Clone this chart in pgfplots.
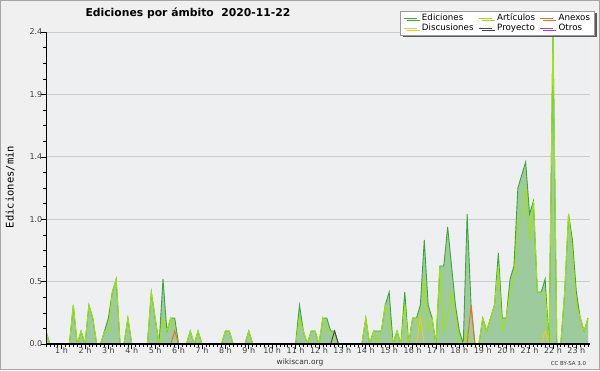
\documentclass[border=0pt]{standalone}
\usepackage{pgfplots}
\pgfplotsset{compat=1.18}
\usepackage{pgfplotstable}
\usepackage{fontspec}
\setmainfont{DejaVu Sans}
\newfontfamily\monofont{DejaVu Sans Mono}
\usetikzlibrary{shadows}
\definecolor{plotbg}{RGB}{238,239,241}
\definecolor{outerbg}{RGB}{240,240,240}
\definecolor{edline}{RGB}{60,165,60}
\definecolor{edfill}{RGB}{157,203,157}
\definecolor{artline}{RGB}{160,230,0}
\definecolor{anexline}{RGB}{240,110,40}
\definecolor{discline}{RGB}{245,200,40}
\definecolor{proyline}{RGB}{70,70,70}
\definecolor{otrosline}{RGB}{150,70,230}
\definecolor{gridc}{RGB}{204,204,204}

\pgfplotstableread{
i ed art disc anex proy otros
0 0.1 0.1 0 0 0 0
1 0 0 0 0 0 0
2 0 0 0 0 0 0
3 0 0 0 0 0 0
4 0 0 0 0 0 0
5 0 0 0 0 0 0
6 0 0 0 0 0 0
7 0.3 0.3 0 0 0 0
8 0 0 0 0 0 0
9 0.1 0.1 0 0 0 0
10 0 0 0 0 0 0
11 0.3 0.3 0 0 0 0
12 0.2 0.2 0 0 0 0
13 0 0 0 0 0 0
14 0 0 0 0 0 0
15 0.1 0.1 0 0 0 0
16 0.2 0.1 0 0 0 0
17 0.4 0.4 0 0 0 0
18 0.5 0.5 0 0 0 0
19 0 0 0 0 0 0
20 0 0 0 0 0 0
21 0.2 0.2 0 0 0 0
22 0 0 0 0 0 0
23 0 0 0 0 0 0
24 0 0 0 0 0 0
25 0 0 0 0 0 0
26 0 0 0 0 0 0
27 0.4 0.4 0 0 0 0
28 0.2 0.2 0 0 0 0
29 0 0 0 0 0 0
30 0.5 0.2 0 0 0 0
31 0.1 0.1 0 0 0 0
32 0.2 0.2 0 0 0 0
33 0.2 0.1 0 0.1 0 0
34 0 0 0 0 0 0
35 0 0 0 0 0 0
36 0 0 0 0 0 0
37 0.1 0.1 0 0 0 0
38 0 0 0 0 0 0
39 0.1 0.1 0 0 0 0
40 0 0 0 0 0 0
41 0 0 0 0 0 0
42 0 0 0 0 0 0
43 0 0 0 0 0 0
44 0 0 0 0 0 0
45 0 0 0 0 0 0
46 0.1 0.1 0 0 0 0
47 0.1 0.1 0 0 0 0
48 0 0 0 0 0 0
49 0 0 0 0 0 0
50 0 0 0 0 0 0
51 0 0 0 0 0 0
52 0.1 0.1 0 0 0 0
53 0 0 0 0 0 0
54 0 0 0 0 0 0
55 0 0 0 0 0 0
56 0 0 0 0 0 0
57 0 0 0 0 0 0
58 0 0 0 0 0 0
59 0 0 0 0 0 0
60 0 0 0 0 0 0
61 0 0 0 0 0 0
62 0 0 0 0 0 0
63 0 0 0 0 0 0
64 0 0 0 0 0 0
65 0.3 0.2 0 0 0 0
66 0.1 0.1 0 0 0 0
67 0 0 0 0 0 0
68 0.1 0.1 0 0 0 0
69 0.1 0.1 0 0 0 0
70 0 0 0 0 0 0
71 0.2 0.2 0 0 0 0
72 0.2 0.1 0 0 0 0
73 0.1 0.1 0 0 0 0
74 0.1 0 0 0 0.1 0
75 0 0 0 0 0 0
76 0 0 0 0 0 0
77 0 0 0 0 0 0
78 0 0 0 0 0 0
79 0 0 0 0 0 0
80 0 0 0 0 0 0
81 0 0 0 0 0 0
82 0.2 0.2 0 0 0 0
83 0 0 0 0 0 0
84 0.1 0.1 0 0 0 0
85 0.1 0 0 0 0 0
86 0.1 0.1 0 0 0 0
87 0.3 0.3 0 0 0 0
88 0.4 0.2 0 0 0 0
89 0 0 0 0 0 0
90 0.1 0.1 0 0 0 0
91 0 0 0 0 0 0
92 0.4 0.3 0 0 0 0
93 0 0 0 0 0 0
94 0.2 0.2 0 0 0 0
95 0.2 0.2 0 0 0 0
96 0.3 0.1 0.2 0 0 0
97 0.8 0.5 0 0 0 0
98 0.3 0.1 0 0 0 0
99 0.2 0.2 0 0 0 0
100 0 0 0 0 0 0
101 0.6 0.6 0 0 0 0
102 0.6 0.1 0 0 0 0
103 0.9 0.2 0 0 0 0
104 0.6 0.4 0 0 0 0
105 0.3 0.2 0 0 0 0
106 0.1 0 0 0 0 0
107 0 0 0 0 0 0
108 1.0 0.1 0 0 0 0
109 0.3 0 0 0.3 0 0
110 0 0 0 0 0 0
111 0 0 0 0 0 0
112 0.2 0.2 0 0 0 0
113 0.1 0.1 0 0 0 0
114 0.2 0.2 0 0 0 0
115 0.3 0.3 0 0 0 0
116 0.7 0.6 0 0 0 0
117 0.2 0.1 0 0 0 0
118 0.2 0.2 0 0 0 0
119 0.5 0.4 0 0 0 0
120 0.6 0.5 0 0 0 0
121 1.2 0.9 0 0 0 0
122 1.3 1.0 0 0 0 0
123 1.4 1.2 0 0 0 0
124 1.0 0.8 0 0 0 0
125 1.1 1.1 0 0 0 0
126 0.4 0.4 0 0 0 0
127 0.4 0.4 0 0 0 0
128 0.5 0.4 0.1 0 0 0
129 0 0 0 0 0 0
130 2.4 2.4 0 0 0 0
131 0 0 0 0 0 0
132 0 0 0 0 0 0
133 0.4 0.4 0 0 0 0
134 1.0 1.0 0 0 0 0
135 0.8 0.7 0 0 0 0
136 0.4 0.3 0 0 0 0
137 0.2 0.2 0 0 0 0
138 0.1 0.1 0 0 0 0
139 0.2 0.2 0 0 0 0
}\data

\begin{document}
\begin{tikzpicture}[x=1pt,y=1pt]
\fill[outerbg] (0,0) rectangle (600,370);
\begin{axis}[
  at={(46pt,26pt)}, anchor=south west,
  scale only axis, width=544pt, height=312pt,
  xmin=0, xmax=139.5, ymin=0, ymax=2.4,
  axis lines*=left,
  axis line style={black, line width=1pt},
  axis background/.style={fill=plotbg},
  ytick={0,0.48,0.96,1.44,1.92,2.4},
  yticklabels={0.0,0.5,1.0,1.4,1.9,2.4},
  minor y tick num=3,
  xtick={4,10,...,136},
  xticklabels={1 h,2 h,3 h,4 h,5 h,6 h,7 h,8 h,9 h,10 h,11 h,12 h,13 h,14 h,15 h,16 h,17 h,18 h,19 h,20 h,21 h,22 h,23 h},
  minor xtick={0,...,139},
  ymajorgrids, major grid style={gridc, line width=0.8pt},
  tick align=outside, major tick length=5pt, minor tick length=3pt,
  tick style={black, line width=0.6pt},
  /pgf/number format/assume math mode=true,
  ticklabel style={font=\fontsize{8}{9}\selectfont, text=black!75},
  xticklabel style={inner sep=0pt, yshift=1.5pt},
  yticklabel style={inner sep=0pt, xshift=1.5pt},
  legend columns=3,
  legend style={at={(1.0074,1.0673)}, anchor=north east, draw=gray!80, fill=white,
    font=\fontsize{8.7}{10}\selectfont, inner xsep=3pt, inner ysep=2pt,
    nodes={inner sep=0.8pt, text height=6.5pt, text depth=1.8pt},
    column sep=4pt, row sep=0pt,
    drop shadow={shadow xshift=3pt, shadow yshift=-2pt, fill=black!65, opacity=1}},
  legend cell align=left,
  legend image code/.code={\draw[#1, line width=1pt] (0pt,0pt) -- (10pt,0pt); \path (0pt,0pt) -- (13pt,0pt);},
]
\addplot[fill=edfill, draw=none, forget plot] table[x=i, y=ed]{\data} \closedcycle;
\addplot[edline, line width=0.9pt] table[x=i, y=ed]{\data};
\addplot[artline, line width=0.9pt] table[x=i, y=art]{\data};
\addplot[anexline, line width=0.9pt] table[x=i, y=anex]{\data};
\addplot[discline, line width=0.9pt] table[x=i, y=disc]{\data};
\addplot[proyline, line width=0.9pt] table[x=i, y=proy]{\data};
\addplot[otrosline, line width=0.9pt] table[x=i, y=otros]{\data};
\legend{Ediciones,Artículos,Anexos,Discusiones,Proyecto,Otros}
\draw[black, line width=1.2pt] (rel axis cs:0,0) -- (rel axis cs:1,0);
\draw[black, line width=1pt] (rel axis cs:0,0) -- (rel axis cs:0,1);
\end{axis}
\draw[gray!70, line width=1pt] (0.5,0.5) rectangle (599.5,369.5);
\node[font=\bfseries\fontsize{10.8}{12}\selectfont, anchor=base] at (188,353) {Ediciones por ámbito\hspace{0.7em}2020-11-22};
\node[rotate=90, font=\monofont\fontsize{10.5}{12}\selectfont] at (10,183) {Ediciones/min};
\node[font=\fontsize{7.5}{9}\selectfont, anchor=base, text=black!80] at (300,6) {wikiscan.org};
\node[font=\fontsize{5.5}{7}\selectfont, anchor=base, text=black!80] at (568.5,5) {CC BY-SA 3.0};
\end{tikzpicture}
\end{document}
